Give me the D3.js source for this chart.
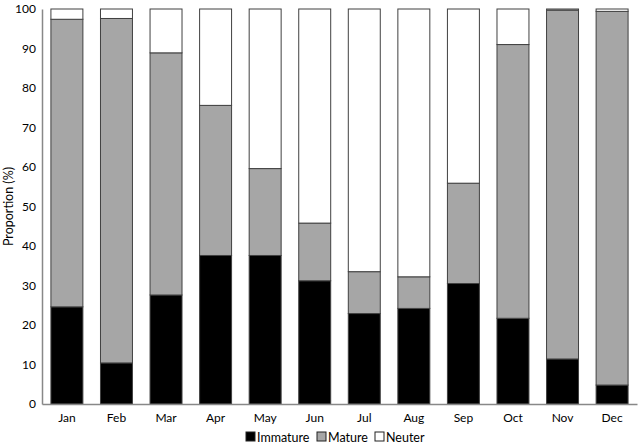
<!DOCTYPE html>
<html><head><meta charset="utf-8">
<script src="https://cdn.jsdelivr.net/npm/d3@7"></script>
<style>body{margin:0;background:#fff;} svg{display:block;font-family:Lato,"Open Sans",sans-serif;}</style>
</head><body>
<svg id="c" width="638" height="445"></svg>
<script>
const months = ["Jan","Feb","Mar","Apr","May","Jun","Jul","Aug","Sep","Oct","Nov","Dec"];
const immature = [24.6,10.4,27.6,37.6,37.6,31.2,22.9,24.2,30.5,21.7,11.4,4.8];
const mature   = [72.8,87.2,61.3,38.0,22.0,14.6,10.6,8.0,25.4,69.3,88.3,94.6];
const neuter   = [2.6,2.4,11.1,24.4,40.4,54.2,66.5,67.8,44.1,9.0,0.3,0.6];
const seriesNames = ["Immature","Mature","Neuter"];
const colors = ["#000000","#a6a6a6","#ffffff"];
const yTicks = [0,10,20,30,40,50,60,70,80,90,100];

const svg = d3.select("#c");
const m = {l:42, r:1, t:9, b:41};
const W = 638, H = 445;
const x = d3.scaleBand().domain(months).range([m.l, W-m.r]).paddingInner(0.355).paddingOuter(0.18);
const y = d3.scaleLinear().domain([0,100]).range([H-m.b, m.t]);

const rows = months.map((mo,i)=>({month:mo, Immature:immature[i], Mature:mature[i], Neuter:neuter[i]}));
const stack = d3.stack().keys(seriesNames)(rows);

svg.append("g").selectAll("g").data(stack).join("g")
  .attr("fill",(d,i)=>colors[i])
  .selectAll("rect").data(d=>d).join("rect")
  .attr("x",d=>x(d.data.month))
  .attr("width",x.bandwidth())
  .attr("y",d=>y(d[1]))
  .attr("height",d=>y(d[0])-y(d[1]))
  .attr("stroke","#404040").attr("stroke-width",1);

// axes
const ya = svg.append("g").attr("transform",`translate(${m.l},0)`)
  .call(d3.axisLeft(y).tickValues(yTicks).tickSize(0).tickPadding(6));
ya.select(".domain").attr("stroke","#888").attr("stroke-width",1.5);
ya.selectAll("text").attr("font-size",12).attr("fill","#000").attr("font-family","Lato");

const xa = svg.append("g").attr("transform",`translate(0,${H-m.b})`)
  .call(d3.axisBottom(x).tickSize(0).tickPadding(9));
xa.select(".domain").attr("stroke","#888").attr("stroke-width",1.5);
xa.selectAll("text").attr("font-size",12).attr("fill","#000").attr("font-family","Lato");

svg.append("text").attr("transform",`translate(13,${(m.t+H-m.b)/2}) rotate(-90)`)
  .attr("text-anchor","middle").attr("font-size",12.5).text("Proportion (%)");

// legend
const legX = [246, 317, 375];
const lg = svg.append("g");
seriesNames.forEach((s,i)=>{
  lg.append("rect").attr("x",legX[i]).attr("y",432).attr("width",9).attr("height",9)
    .attr("fill",colors[i]).attr("stroke","#222").attr("stroke-width",1);
  lg.append("text").attr("x",legX[i]+11).attr("y",441.5).attr("font-size",12.5).text(s);
});
</script>
</body></html>
